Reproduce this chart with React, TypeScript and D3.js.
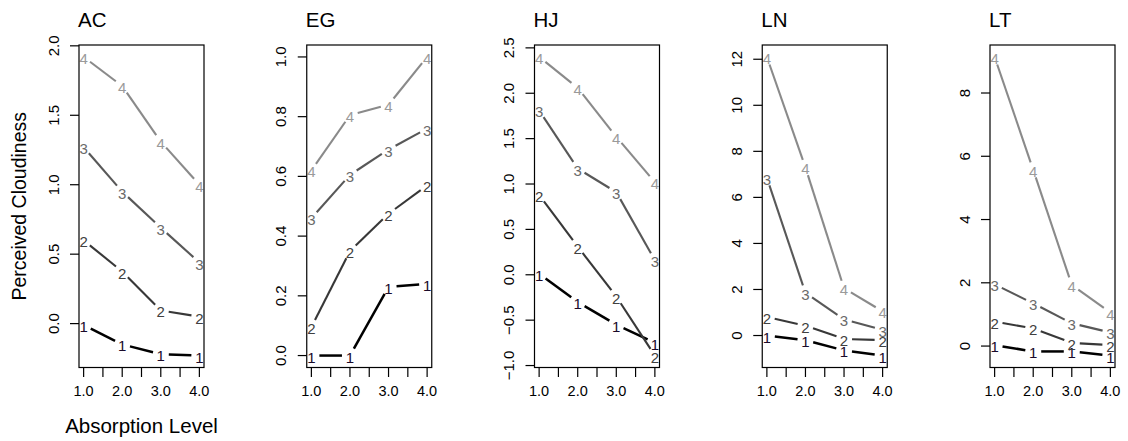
import React from 'react';
import * as d3 from 'd3';

// ---- data ----
const panelNames = ['AC', 'EG', 'HJ', 'LN', 'LT'];
const absorptionLevels = [1, 2, 3, 4];
const xTickValues = [1, 1.5, 2, 2.5, 3, 3.5, 4];
const xTickLabelValues = [1, 2, 3, 4];
const seriesLabels = ['1', '2', '3', '4'];
const seriesColors = ['#000000', '#383838', '#585858', '#8a8a8a'];
const labelColors = ['#1a0a2a', '#404040', '#6a6a6a', '#9a9a9a'];
const seriesWidths = [2.5, 2.1, 2.1, 2.1];

const acValues = [
  [-0.01, -0.15, -0.22, -0.23],
  [0.6, 0.375, 0.095, 0.05],
  [1.27, 0.95, 0.69, 0.44],
  [1.92, 1.71, 1.31, 1.0],
];
const egValues = [
  [0.0, 0.0, 0.23, 0.24],
  [0.095, 0.35, 0.475, 0.57],
  [0.46, 0.605, 0.69, 0.76],
  [0.62, 0.805, 0.84, 1.0],
];
const hjValues = [
  [0.01, -0.3, -0.55, -0.75],
  [0.88, 0.31, -0.24, -0.89],
  [1.81, 1.17, 0.91, 0.16],
  [2.4, 2.06, 1.52, 1.02],
];
const lnValues = [
  [0.0, -0.2, -0.65, -0.87],
  [0.8, 0.43, -0.15, -0.2],
  [6.85, 1.85, 0.7, 0.25],
  [12.1, 7.3, 2.05, 1.05],
];
const ltValues = [
  [0.03, -0.17, -0.17, -0.3],
  [0.77, 0.56, 0.1, 0.03],
  [1.95, 1.35, 0.72, 0.43],
  [9.14, 5.57, 1.93, 1.06],
];

const acTicks = [0, 0.5, 1, 1.5, 2];
const egTicks = [0, 0.2, 0.4, 0.6, 0.8, 1.0];
const hjTicks = [-1, -0.5, 0, 0.5, 1, 1.5, 2, 2.5];
const lnTicks = [0, 2, 4, 6, 8, 10, 12];
const ltTicks = [0, 2, 4, 6, 8];
const tickFormats = ['.1f', '.1f', '.1f', 'd', 'd'];

const panelValues = [acValues, egValues, hjValues, lnValues, ltValues];
const panelTicks = [acTicks, egTicks, hjTicks, lnTicks, ltTicks];

const xLabel = 'Absorption Level';
const yLabel = 'Perceived Cloudiness';

// ---- layout ----
const W = 1128;
const H = 441;
const boxTop = 45;
const boxBottom = 367.5;
const boxWidth = 125;
const firstLeft = 79;
const panelStep = 227.75;
const font = '"Liberation Sans", Arial, Helvetica, sans-serif';
const gap = 8;

function padded(ext: [number, number]): [number, number] {
  const r = ext[1] - ext[0];
  return [ext[0] - 0.04 * r, ext[1] + 0.04 * r];
}

function Panel({ index }: { index: number }) {
  const left = firstLeft + index * panelStep;
  const right = left + boxWidth;
  const values = panelValues[index];
  const all = values.flat();
  const yDomain = padded(d3.extent(all) as [number, number]);
  const x = d3.scaleLinear().domain(padded([1, 4])).range([left, right]);
  const y = d3.scaleLinear().domain(yDomain).range([boxBottom, boxTop]);
  const fmt = d3.format(tickFormats[index]);
  const xfmt = d3.format('.1f');

  const segments: { x1: number; y1: number; x2: number; y2: number; s: number }[] = [];
  values.forEach((series, s) => {
    for (let i = 0; i < series.length - 1; i++) {
      const ax = x(absorptionLevels[i]);
      const ay = y(series[i]);
      const bx = x(absorptionLevels[i + 1]);
      const by = y(series[i + 1]);
      const dx = bx - ax;
      const dy = by - ay;
      const len = Math.sqrt(dx * dx + dy * dy);
      if (len <= 2 * gap) continue;
      const ux = dx / len;
      const uy = dy / len;
      segments.push({
        x1: ax + ux * gap,
        y1: ay + uy * gap,
        x2: bx - ux * gap,
        y2: by - uy * gap,
        s,
      });
    }
  });

  return (
    <g>
      <text x={left - 1} y={26.5} fontSize={20.5} fontFamily={font} fill="#000">
        {panelNames[index]}
      </text>
      {segments.map((sg, i) => (
        <line
          key={'seg' + i}
          x1={sg.x1}
          y1={sg.y1}
          x2={sg.x2}
          y2={sg.y2}
          stroke={seriesColors[sg.s]}
          strokeWidth={seriesWidths[sg.s]}
        />
      ))}
      {values.map((series, s) =>
        series.map((v, i) => (
          <text
            key={'lab' + s + '-' + i}
            x={x(absorptionLevels[i])}
            y={y(v) + 1.5}
            fontSize={15}
            fontFamily={font}
            fill={labelColors[s]}
            textAnchor="middle"
            dominantBaseline="central"
          >
            {seriesLabels[s]}
          </text>
        ))
      )}
      <rect
        x={left}
        y={boxTop}
        width={boxWidth}
        height={boxBottom - boxTop}
        fill="none"
        stroke="#000"
        strokeWidth={1.2}
      />
      {panelTicks[index].map((t) => (
        <g key={'yt' + t}>
          <line x1={left - 9} x2={left} y1={y(t)} y2={y(t)} stroke="#000" strokeWidth={1.2} />
          <text
            transform={`translate(${left - 26},${y(t)}) rotate(-90)`}
            fontSize={15}
            fontFamily={font}
            fill="#000"
            textAnchor="middle"
            dominantBaseline="central"
          >
            {fmt(t)}
          </text>
        </g>
      ))}
      {xTickValues.map((t) => (
        <line
          key={'xt' + t}
          x1={x(t)}
          x2={x(t)}
          y1={boxBottom}
          y2={boxBottom + 9.5}
          stroke="#000"
          strokeWidth={1.2}
        />
      ))}
      {xTickLabelValues.map((t) => (
        <text
          key={'xl' + t}
          x={x(t)}
          y={390.5}
          fontSize={14.5}
          fontFamily={font}
          fill="#000"
          textAnchor="middle"
          dominantBaseline="central"
        >
          {xfmt(t)}
        </text>
      ))}
    </g>
  );
}

export default function App() {
  return (
    <svg
      width={W}
      height={H}
      style={{ position: 'absolute', left: 0, top: 0, background: '#fff' }}
    >
      <rect x={0} y={0} width={W} height={H} fill="#fff" />
      {panelNames.map((_, i) => (
        <Panel key={i} index={i} />
      ))}
      <text
        x={firstLeft + boxWidth / 2}
        y={425}
        fontSize={20.5}
        fontFamily={font}
        fill="#000"
        textAnchor="middle"
        dominantBaseline="central"
      >
        {xLabel}
      </text>
      <text
        transform={`translate(19,${(boxTop + boxBottom) / 2}) rotate(-90)`}
        fontSize={19.5}
        fontFamily={font}
        fill="#000"
        textAnchor="middle"
        dominantBaseline="central"
      >
        {yLabel}
      </text>
    </svg>
  );
}
